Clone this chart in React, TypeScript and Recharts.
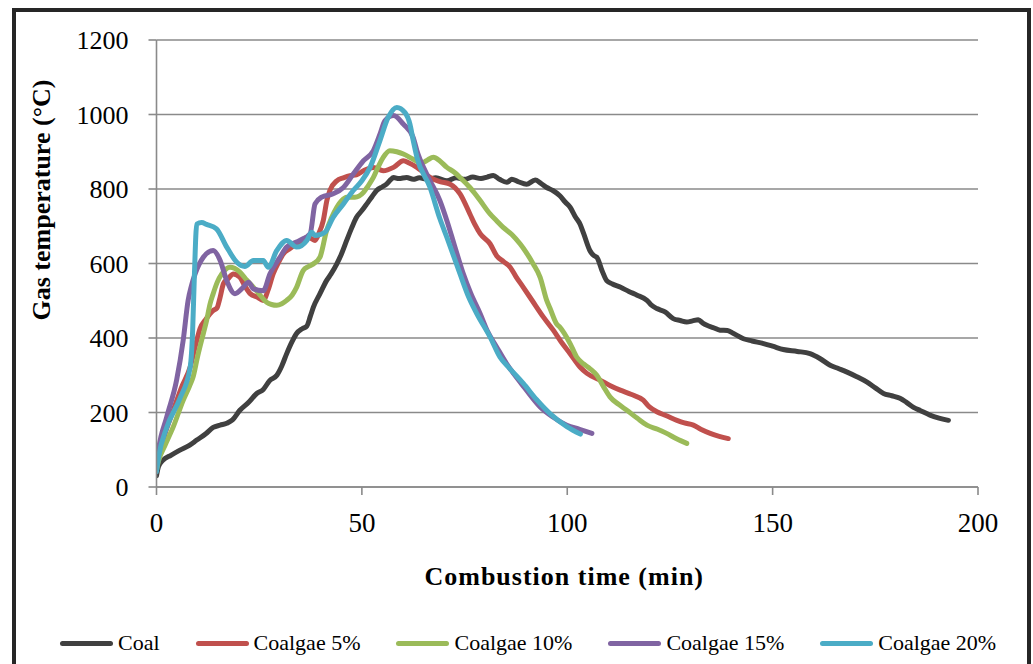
import React from "react";
import { LineChart, Line, XAxis, YAxis, CartesianGrid } from "recharts";

// Gas temperature (°C) against combustion time (min) for each fuel blend
const coalTime = [0, 0.5, 1.6, 3.5, 5.7, 8, 9.8, 12, 13.8, 15.5, 17.1, 18.5, 20.3, 22.5, 24.4, 26, 27.5, 29.3, 30.5, 31.7, 33, 34.1, 35.5, 36.6, 37.5, 38.2, 39.8, 41.4, 42.5, 43.9, 45, 46.3, 47.5, 48.7, 50, 51.2, 52.5, 53.6, 55, 56, 57, 57.7, 59, 60.9, 62.5, 64, 66, 68, 70.7, 73, 75, 77, 79, 80.5, 82, 83.5, 85.3, 86.5, 88, 90.1, 92.2, 93.5, 95, 96.5, 98.2, 99.5, 100.7, 102, 103.1, 104, 105.5, 106.5, 107.2, 108.5, 109.6, 111, 113, 115, 117, 119.4, 120.5, 121.8, 123.8, 125.8, 127.5, 129.1, 130.5, 131.9, 133, 134, 135.5, 137.2, 139, 140.5, 142.9, 145, 147.8, 150, 152.6, 156, 159.1, 161.5, 164, 166, 168, 170.5, 172.9, 175, 177, 179, 181, 182.5, 184.3, 186, 188.3, 190.5, 192.8];
const coalTemp = [30, 55, 72, 85, 99, 112, 126, 143, 160, 166, 171, 180, 206, 228, 251, 262, 285, 300, 325, 358, 390, 412, 425, 432, 460, 483, 519, 554, 572, 599, 625, 662, 695, 724, 742, 760, 780, 796, 806, 813, 825, 831, 828, 831, 826, 830, 826, 830, 822, 830, 826, 832, 828, 832, 836, 826, 818, 826, 820, 813, 824, 816, 804, 796, 782, 765, 751, 725, 706, 680, 635, 621, 617, 580, 554, 545, 536, 525, 515, 501, 488, 479, 470, 452, 447, 443, 446, 449, 440, 434, 428, 421, 420, 412, 398, 392, 385, 378, 369, 364, 358, 345, 327, 318, 309, 296, 282, 266, 251, 245, 238, 228, 214, 205, 193, 185, 179];

const blend5Time = [0, 0.5, 2, 4.1, 6, 8.2, 9.5, 10.6, 12, 13.8, 14.7, 15.5, 16.3, 17.5, 18.7, 20.3, 21.5, 22.8, 24.5, 26, 27.2, 28.4, 29.8, 30.9, 32.5, 34.1, 35.5, 36.6, 37.5, 38.6, 39.5, 40.6, 41.5, 42.2, 43.9, 45.5, 47.1, 48.7, 50.4, 52.8, 55.2, 57.7, 60.1, 61.5, 63.4, 65, 66.6, 69, 71.5, 73.9, 76.3, 77.5, 78.8, 81.2, 82.8, 84.5, 86.1, 87.5, 89.3, 91.5, 94.2, 96.6, 98.5, 100.7, 103.1, 104.8, 108, 110.5, 112.9, 115.5, 118.5, 120, 121.8, 124, 126.7, 128.5, 130.7, 132.5, 134.8, 137, 139.2];
const blend5Temp = [50, 75, 140, 206, 265, 322, 380, 425, 450, 474, 480, 510, 546, 560, 572, 563, 540, 519, 510, 501, 530, 572, 605, 626, 640, 653, 662, 670, 668, 662, 680, 715, 770, 796, 822, 830, 836, 838, 849, 858, 849, 858, 876, 870, 858, 845, 831, 820, 813, 787, 733, 705, 680, 653, 621, 605, 590, 565, 536, 500, 456, 421, 390, 358, 322, 305, 287, 272, 260, 249, 233, 215, 202, 192, 179, 172, 166, 155, 144, 136, 130];

const blend10Time = [0, 0.5, 2, 4.1, 6.5, 8, 8.9, 10, 11.4, 12.2, 13, 13.8, 14.8, 15.9, 17.9, 20.3, 22, 23.6, 25, 26.8, 28, 29.3, 30.5, 31.7, 33, 34.1, 35.7, 37, 38.2, 39.8, 41.4, 42.5, 43.9, 45, 46.3, 48.3, 50.4, 51.5, 52.8, 54, 55.2, 56.8, 58.5, 60.1, 62.5, 64, 65, 66, 67.4, 69, 70.7, 72.5, 73.9, 76.3, 77.5, 78.8, 81.2, 82.8, 84.4, 86.5, 88.5, 90, 91.7, 93.4, 95, 95.8, 97.4, 98.2, 100.7, 102.3, 103.9, 105.5, 107.2, 108.8, 110.4, 112.5, 114.5, 117, 119.4, 122, 124.2, 126.5, 129.1];
const blend10Temp = [45, 70, 110, 162, 233, 270, 295, 350, 412, 447, 490, 519, 550, 572, 590, 577, 555, 536, 518, 496, 490, 488, 492, 501, 515, 536, 581, 592, 599, 617, 688, 720, 751, 768, 778, 778, 791, 808, 831, 860, 885, 903, 900, 894, 880, 872, 872, 878, 885, 875, 858, 845, 831, 804, 788, 769, 733, 715, 697, 678, 653, 630, 599, 563, 501, 480, 438, 429, 385, 349, 331, 318, 300, 270, 242, 222, 206, 185, 166, 155, 144, 130, 117];

const blend15Time = [0, 0.5, 2.5, 4.9, 6.5, 7.7, 8.5, 9.4, 11.4, 13.8, 15.5, 17.1, 19.1, 21.1, 22.4, 23.6, 26, 27.6, 30.1, 31.7, 34.9, 37.4, 38.6, 40.2, 43, 45.5, 47.9, 50.4, 52.8, 54.4, 55.6, 57.7, 60.1, 62.5, 63.4, 66, 69, 70.7, 72.5, 74.7, 76.5, 78.8, 80.5, 82.8, 85.3, 86.9, 89.5, 93.4, 96.5, 99.9, 103, 106];
const blend15Temp = [55, 100, 188, 287, 394, 501, 540, 572, 617, 635, 608, 554, 519, 536, 550, 532, 527, 572, 617, 644, 662, 680, 760, 778, 787, 804, 840, 876, 903, 947, 983, 997, 974, 938, 903, 835, 769, 715, 650, 572, 520, 465, 420, 376, 330, 305, 268, 215, 188, 166, 155, 144];

const blend20Time = [0, 0.5, 2.5, 5.7, 8.2, 8.8, 9.2, 9.8, 11, 12.2, 14.6, 17.1, 19.5, 21.5, 23.6, 26, 27.2, 29.3, 31.7, 34.1, 36.6, 37.8, 38.6, 41, 43, 45.5, 47.9, 50, 52, 54.4, 56.4, 58.5, 60.5, 61.7, 62.5, 63.4, 66.6, 69, 70.7, 73.9, 76, 78, 81.2, 83.6, 86, 89.3, 92.5, 95.8, 99.9, 103.2];
const blend20Temp = [41, 80, 160, 238, 322, 420, 560, 706, 710, 705, 693, 644, 604, 592, 608, 608, 590, 635, 662, 644, 662, 684, 675, 684, 724, 760, 796, 822, 858, 930, 992, 1019, 1005, 974, 930, 885, 804, 720, 670, 572, 510, 465, 403, 349, 318, 278, 235, 197, 162, 142];

const seriesNames = ["Coal", "Coalgae 5%", "Coalgae 10%", "Coalgae 15%", "Coalgae 20%"];
const seriesColors = ["#404040", "#C0504D", "#9BBB59", "#8064A2", "#4BACC6"];
const xTicks = [0, 50, 100, 150, 200];
const yTicks = [0, 200, 400, 600, 800, 1000, 1200];

const toPoints = (time: number[], temp: number[]) =>
  time.map((t, i) => ({ t, v: temp[i] }));

const series = [
  toPoints(coalTime, coalTemp),
  toPoints(blend5Time, blend5Temp),
  toPoints(blend10Time, blend10Temp),
  toPoints(blend15Time, blend15Temp),
  toPoints(blend20Time, blend20Temp),
];

const FONT = "'Liberation Serif', 'Times New Roman', serif";
const AXIS_GRAY = "#8a8a8a";

export default function App() {
  return (
    <div
      style={{
        position: "absolute",
        left: 0,
        top: 0,
        width: 1033,
        height: 664,
        overflow: "hidden",
        background: "#fff",
        fontFamily: FONT,
      }}
    >
      <div
        style={{
          position: "absolute",
          left: 12,
          top: 8,
          width: 1019,
          height: 720,
          border: "4px solid #262626",
          boxSizing: "border-box",
        }}
      />
      <div style={{ position: "absolute", left: 0, top: 0 }}>
        <LineChart
          width={1033}
          height={664}
          margin={{ top: 40, right: 55, bottom: 0, left: 0 }}
        >
          <CartesianGrid
            vertical={false}
            horizontal={true}
            stroke={AXIS_GRAY}
            strokeWidth={1.6}
          />
          <XAxis
            type="number"
            dataKey="t"
            domain={[0, 200]}
            ticks={xTicks}
            allowDataOverflow
            height={177}
            axisLine={{ stroke: AXIS_GRAY, strokeWidth: 1.6 }}
            tickLine={{ stroke: AXIS_GRAY, strokeWidth: 1.6 }}
            tickSize={8}
            tickMargin={18}
            tick={{ fill: "#000", fontSize: 27, fontFamily: FONT }}
            label={{
              content: (props: any) => {
                const vb = props.viewBox || { x: 156.5, y: 487, width: 821.5 };
                return (
                  <text
                    x={vb.x + vb.width / 2 - 3}
                    y={vb.y + 98}
                    textAnchor="middle"
                    fontFamily={FONT}
                    fontWeight="bold"
                    fontSize={26}
                    letterSpacing={1}
                    fill="#000"
                  >
                    Combustion time (min)
                  </text>
                );
              },
            }}
          />
          <YAxis
            type="number"
            domain={[0, 1200]}
            ticks={yTicks}
            width={156.5}
            axisLine={{ stroke: AXIS_GRAY, strokeWidth: 1.6 }}
            tickLine={{ stroke: AXIS_GRAY, strokeWidth: 1.6 }}
            tickSize={8}
            tickMargin={20}
            tick={{ fill: "#000", fontSize: 26, fontFamily: FONT }}
            label={{
              content: (props: any) => {
                const vb = props.viewBox || { x: 0, y: 40 };
                const cx = vb.x + 50;
                const cy = vb.y + 160;
                return (
                  <text
                    x={cx}
                    y={cy}
                    transform={`rotate(-90, ${cx}, ${cy})`}
                    textAnchor="middle"
                    fontFamily={FONT}
                    fontWeight="bold"
                    fontSize={26}
                    fill="#000"
                  >
                    Gas temperature (°C)
                  </text>
                );
              },
            }}
          />
          {series.map((pts, i) => (
            <Line
              key={seriesNames[i]}
              name={seriesNames[i]}
              data={pts}
              dataKey="v"
              type="monotone"
              stroke={seriesColors[i]}
              strokeWidth={5}
              strokeLinejoin="round"
              strokeLinecap="round"
              dot={false}
              activeDot={false}
              isAnimationActive={false}
            />
          ))}
        </LineChart>
      </div>
      <div
        style={{
          position: "absolute",
          left: 60,
          top: 630,
          display: "flex",
          alignItems: "center",
          gap: 36,
          fontSize: 22,
          fontFamily: FONT,
          color: "#000",
          whiteSpace: "nowrap",
        }}
      >
        {seriesNames.map((name, i) => (
          <div key={name} style={{ display: "flex", alignItems: "center" }}>
            <div
              style={{
                width: 53,
                height: 5,
                borderRadius: 3,
                background: seriesColors[i],
                marginRight: 5,
              }}
            />
            <span>{name}</span>
          </div>
        ))}
      </div>
    </div>
  );
}
